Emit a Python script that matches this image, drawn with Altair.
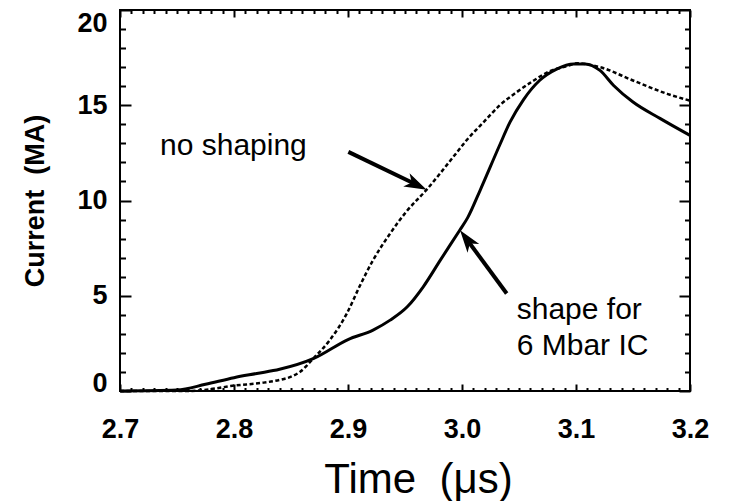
import math
import altair as alt
import pandas as pd

# ---------------- data ----------------
shaped_t = [2.700, 2.750, 2.775, 2.800, 2.820, 2.840, 2.870, 2.900, 2.922, 2.937,
            2.952, 2.966, 2.981, 2.998, 3.005, 3.016, 3.033, 3.042, 3.054, 3.068,
            3.083, 3.098, 3.108, 3.121, 3.133, 3.150, 3.174, 3.200]
shaped_i = [0.0, 0.05, 0.35, 0.70, 0.92, 1.14, 1.71, 2.70, 3.20, 3.72,
            4.42, 5.47, 6.87, 8.44, 9.10, 10.55, 12.90, 14.10, 15.30, 16.30,
            16.90, 17.17, 17.17, 16.83, 16.04, 15.17, 14.30, 13.42]

noshape_t = [2.700, 2.760, 2.780, 2.797, 2.826, 2.840, 2.852, 2.858, 2.8696, 2.884,
             2.899, 2.910, 2.922, 2.937, 2.951, 2.969, 2.990, 3.004, 3.019, 3.033,
             3.048, 3.063, 3.077, 3.092, 3.101, 3.121, 3.150, 3.180, 3.200]
noshape_i = [0.0, 0.0, 0.10, 0.26, 0.44, 0.58, 0.80, 1.01, 1.71, 2.67,
             4.07, 5.47, 6.87, 8.27, 9.40, 10.57, 12.11, 13.16, 14.12, 14.99,
             15.69, 16.30, 16.79, 17.05, 17.20, 17.00, 16.30, 15.60, 15.24]

# arrows: tail (x0, y0) -> tip (x1, y1)
arrow_x0 = [2.9003, 3.0392]
arrow_y0 = [12.55, 5.12]
arrow_x1 = [2.9690, 2.9983]
arrow_y1 = [10.57, 8.44]

label_x = [2.7351, 3.048, 3.048]
label_y = [12.39, 3.78, 1.89]
label_text = ["no shaping", "shape for", "6 Mbar IC"]

x_major = [2.7, 2.8, 2.9, 3.0, 3.1, 3.2]
x_minor = [round(2.7 + k * 0.01, 2) for k in range(51) if k % 10 != 0]
y_major = [0, 5, 10, 15, 20]
y_minor = [k for k in range(21) if k % 5 != 0]

# ---------------- layout ----------------
W, H = 570, 381
XPX = W / 0.5
YPX = H / 20.0
FONT = "Liberation Sans"
NB = "\u00a0"

xs = alt.Scale(domain=[2.7, 3.2], nice=False, zero=False)
ys = alt.Scale(domain=[0, 20], nice=False, zero=False)

solid_df = pd.DataFrame({"t": shaped_t, "i": shaped_i})
dash_df = pd.DataFrame({"t": noshape_t, "i": noshape_i})

rows = []
heads = []
for k in range(len(arrow_x0)):
    dxp = (arrow_x1[k] - arrow_x0[k]) * XPX
    dyp = -(arrow_y1[k] - arrow_y0[k]) * YPX
    L = math.hypot(dxp, dyp)
    f = 1 - 14.0 / L
    ex = arrow_x0[k] + f * (arrow_x1[k] - arrow_x0[k])
    ey = arrow_y0[k] + f * (arrow_y1[k] - arrow_y0[k])
    rows.append({"a": k, "x": arrow_x0[k], "y": arrow_y0[k], "o": 0})
    rows.append({"a": k, "x": ex, "y": ey, "o": 1})
    ang = math.degrees(math.atan2(dxp, -dyp)) % 360
    heads.append({"x": arrow_x1[k], "y": arrow_y1[k], "ang": ang})
shaft_df = pd.DataFrame(rows)
head_df = pd.DataFrame(heads)
text_df = pd.DataFrame({"x": label_x, "y": label_y, "label": label_text})

common_tick = dict(grid=False, domain=False, tickColor="black", tickWidth=2)

ax_bottom = alt.Axis(values=x_major, format=".1f", orient="bottom", tickSize=7, offset=-7,
                     labelFont=FONT, labelFontWeight="bold", labelFontSize=27,
                     labelColor="black", labelPadding=25, labelFlush=False,
                     title="Time" + NB + NB + "(\u03bcs)", titleFont=FONT, titleFontWeight="normal",
                     titleFontSize=42, titleColor="black", titleX=298, titleY=108,
                     titleBaseline="alphabetic", titleAlign="center", **common_tick)
ax_bottom_minor = alt.Axis(values=x_minor, orient="bottom", tickSize=3.5, offset=-3.5,
                           labels=False, title=None, **common_tick)
ax_top = alt.Axis(values=x_major, orient="top", tickSize=7, offset=-7,
                  labels=False, title=None, **common_tick)
ax_top_minor = alt.Axis(values=x_minor, orient="top", tickSize=3.5, offset=-3.5,
                        labels=False, title=None, **common_tick)

ax_left = alt.Axis(values=y_major, orient="left", tickSize=11, offset=-11,
                   labelFont=FONT, labelFontWeight="bold", labelFontSize=27,
                   labelColor="black", labelPadding=13, labelFlush=False,
                   labelBaseline={"condition": [{"test": "datum.value == 0", "value": "alphabetic"},
                                                {"test": "datum.value == 20", "value": "top"}],
                                  "value": "middle"},
                   title="Current" + NB + NB + "(MA)", titleFont=FONT, titleFontWeight="bold",
                   titleFontSize=27, titleColor="black", titleX=-88, titleY=H / 2,
                   titleAngle=270, titleBaseline="alphabetic", titleAlign="center",
                   **common_tick)
ax_left_minor = alt.Axis(values=y_minor, orient="left", tickSize=5.5, offset=-5.5,
                         labels=False, title=None, **common_tick)
ax_right = alt.Axis(values=y_major, orient="right", tickSize=11, offset=-11,
                    labels=False, title=None, **common_tick)
ax_right_minor = alt.Axis(values=y_minor, orient="right", tickSize=5.5, offset=-5.5,
                          labels=False, title=None, **common_tick)

solid = alt.Chart(solid_df).mark_line(color="black", strokeWidth=3, interpolate="monotone").encode(
    x=alt.X("t:Q", scale=xs, axis=ax_bottom),
    y=alt.Y("i:Q", scale=ys, axis=ax_left),
    order="t:Q",
)
dashed = alt.Chart(dash_df).mark_line(color="black", strokeWidth=2.5, strokeDash=[4, 2.5],
                                      interpolate="monotone").encode(
    x=alt.X("t:Q", scale=xs, axis=ax_bottom_minor),
    y=alt.Y("i:Q", scale=ys, axis=ax_left_minor),
    order="t:Q",
)
shafts = alt.Chart(shaft_df).mark_line(color="black", strokeWidth=4).encode(
    x=alt.X("x:Q", scale=xs, axis=ax_top),
    y=alt.Y("y:Q", scale=ys, axis=ax_right),
    detail="a:N",
    order="o:Q",
)
arrowheads = alt.Chart(head_df).mark_point(
    shape="M0,0L0.55,1.7L0,1.25L-0.55,1.7Z", filled=True, size=700,
    color="black", opacity=1, strokeWidth=0,
).encode(
    x=alt.X("x:Q", scale=xs, axis=ax_top_minor),
    y=alt.Y("y:Q", scale=ys, axis=ax_right_minor),
    angle=alt.Angle("ang:Q", scale=None),
)
texts = alt.Chart(text_df).mark_text(align="left", baseline="alphabetic", font=FONT,
                                     fontSize=30, color="black").encode(
    x=alt.X("x:Q", scale=xs, axis=None),
    y=alt.Y("y:Q", scale=ys, axis=None),
    text="label:N",
)

chart = alt.layer(solid, dashed, shafts, arrowheads, texts).resolve_scale(
    x="independent", y="independent"
).resolve_axis(
    x="independent", y="independent"
).properties(
    width=W, height=H,
    autosize=alt.AutoSizeParams(type="none"),
    padding={"left": 112, "top": 2, "right": 30, "bottom": 110},
    background="white",
).configure_view(stroke="black", strokeWidth=2)

chart.save("out.html", embed_options={"renderer": "svg", "actions": False})
